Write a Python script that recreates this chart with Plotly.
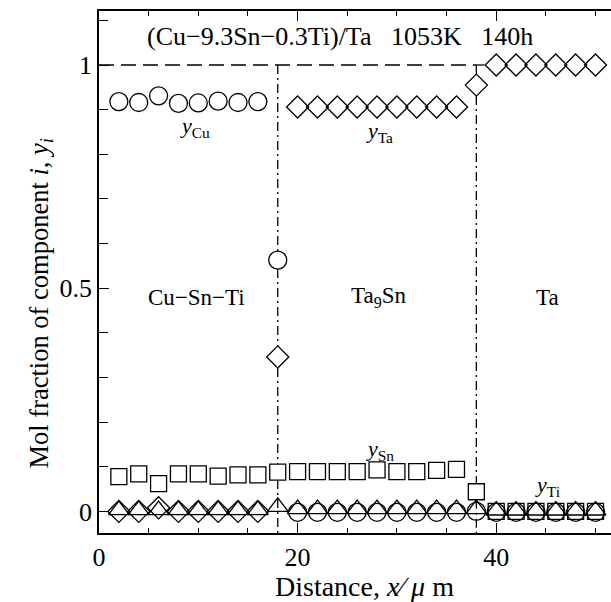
import plotly.graph_objects as go

# ---------------- data ----------------
distance = [2, 4, 6, 8, 10, 12, 14, 16, 18, 20, 22, 24, 26, 28, 30, 32, 34, 36, 38,
            40, 42, 44, 46, 48, 50]
y_cu = [0.918, 0.916, 0.931, 0.914, 0.915, 0.919, 0.916, 0.918, 0.563,
        -0.002, -0.002, -0.002, -0.002, -0.002, -0.002, -0.002, -0.002, -0.002, 0.0,
        -0.002, -0.002, -0.002, -0.002, -0.002, -0.002]
y_ta = [0.0, 0.0, 0.008, 0.0, 0.0, 0.0, 0.0, 0.0, 0.346,
        0.906, 0.906, 0.906, 0.906, 0.906, 0.906, 0.906, 0.906, 0.906, 0.955,
        1.0, 1.0, 1.0, 1.0, 1.0, 1.0]
y_sn = [0.078, 0.084, 0.062, 0.084, 0.084, 0.079, 0.082, 0.082, 0.088,
        0.089, 0.089, 0.089, 0.089, 0.093, 0.089, 0.089, 0.092, 0.094, 0.044,
        0.0, 0.0, 0.0, 0.0, 0.0, 0.0]
y_ti = [0.003, 0.003, 0.003, 0.003, 0.003, 0.003, 0.003, 0.003, 0.01,
        0.005, 0.005, 0.005, 0.005, 0.005, 0.005, 0.005, 0.005, 0.005, 0.005,
        0.002, 0.002, 0.002, 0.002, 0.002, 0.002]

phase_boundaries = [18, 38]
phase_names = ["Cu\u2212Sn\u2212Ti", "Ta<sub>9</sub>Sn", "Ta"]
phase_label_x = [9.8, 28.1, 45.2]
x_label_vals = [0, 20, 40]
x_long_tick_vals = [10, 30, 50]
y_tick_vals = [0, 0.5, 1]
y_tick_text = ["0", "0.5", "1"]

FONT = "Liberation Serif, Times New Roman, serif"
BLACK = "#000000"
SP = "\u00a0"

Y_RANGE = [-0.0484, 1.121]
PLOT_H_PX = 522  # plot-area height in pixels (602 - 11 - 69)
PX_PER_UNIT = PLOT_H_PX / (Y_RANGE[1] - Y_RANGE[0])

fig = go.Figure()

# (values, symbol, size, half-extent above centre px, half-extent below centre px)
series = [
    (y_cu, "circle-open", 18, 9, 9),
    (y_ta, "diamond-open", 17, 11, 11),
    (y_sn, "square-open", 16, 8, 8),
    (y_ti, "triangle-up-open", 18, 9, 4.5),
]
for ys, sym, sz, _, _ in series:
    fig.add_trace(go.Scatter(
        x=distance, y=ys, mode="markers", showlegend=False,
        marker=dict(symbol=sym, size=sz, color=BLACK, line=dict(width=1.3, color=BLACK)),
    ))

# dashed line at y = 1
fig.add_shape(type="line", xref="x", yref="y", x0=0, x1=phase_boundaries[1], y0=1, y1=1,
              line=dict(color=BLACK, width=1.3, dash="15px,7px"), layer="below")
fig.add_shape(type="line", xref="x", yref="y", x0=phase_boundaries[1], x1=phase_boundaries[1] + 0.8,
              y0=1, y1=1, line=dict(color=BLACK, width=1.3), layer="below")

# dash-dot phase boundaries, interrupted where markers sit on them
for b in phase_boundaries:
    idx = distance.index(b)
    gaps = []
    for ys, _, _, up, dn in series:
        v = ys[idx]
        if v > 0.02:
            gaps.append((v - dn / PX_PER_UNIT, v + up / PX_PER_UNIT))
    gaps.sort(key=lambda g: -g[1])
    top = 1.0
    for lo, hi in gaps:
        if hi < top:
            fig.add_shape(type="line", xref="x", yref="y", x0=b, x1=b, y0=top, y1=hi,
                          line=dict(color=BLACK, width=1.3, dash="9px,4px,2px,4px"), layer="below")
        top = min(top, lo)
    fig.add_shape(type="line", xref="x", yref="y", x0=b, x1=b, y0=top, y1=Y_RANGE[0],
                  line=dict(color=BLACK, width=1.3, dash="9px,4px,2px,4px"), layer="below")

annots = []
annots.append(dict(x=24.3, y=1.063,
                   text=f"(Cu\u22129.3Sn\u22120.3Ti)/Ta{SP*3}1053K{SP*3}140h",
                   font=dict(size=26)))
annots.append(dict(x=9.7, y=0.861, text="<i>y</i><sub>Cu</sub>", font=dict(size=22)))
annots.append(dict(x=28.2, y=0.85, text="<i>y</i><sub>Ta</sub>", font=dict(size=22)))
annots.append(dict(x=28.3, y=0.137, text="<i>y</i><sub>Sn</sub>", font=dict(size=22)))
annots.append(dict(x=45.2, y=0.058, text="<i>y</i><sub>Ti</sub>", font=dict(size=22)))
for name, px in zip(phase_names, phase_label_x):
    annots.append(dict(x=px, y=0.48, text=name, font=dict(size=23)))
for a in annots:
    a.update(xref="x", yref="y", showarrow=False)
    a["font"].update(family=FONT, color=BLACK)

# axis titles as paper-positioned annotations
annots.append(dict(xref="paper", yref="paper", x=0.518, y=-0.103, showarrow=False,
                   xanchor="center", yanchor="middle",
                   text="Distance, <i>x</i>\u2215 <i>\u03bc</i> m",
                   font=dict(family=FONT, size=28, color=BLACK)))
annots.append(dict(xref="paper", yref="paper", x=-0.113, y=0.44, showarrow=False,
                   xanchor="center", yanchor="middle", textangle=-90,
                   text="Mol fraction of component <i>i</i>, <i>y</i><sub><i>i</i></sub>",
                   font=dict(family=FONT, size=26.5, color=BLACK)))

tick_common = dict(ticks="inside", tickwidth=1.2, tickcolor=BLACK)

fig.update_layout(
    width=611, height=602,
    margin=dict(l=99, r=0, t=11, b=69),
    paper_bgcolor="white", plot_bgcolor="white",
    font=dict(family=FONT, size=26, color=BLACK),
    annotations=annots,
    showlegend=False,
    xaxis=dict(
        range=[0, 51.56], showgrid=False, zeroline=False,
        showline=True, linecolor=BLACK, linewidth=1.8, mirror="ticks",
        ticklen=10, tickvals=x_label_vals, **tick_common,
        tickfont=dict(family=FONT, size=26, color=BLACK),
        minor=dict(dtick=5, tick0=0, ticklen=5, **tick_common),
    ),
    xaxis2=dict(
        overlaying="x", anchor="y", side="bottom", matches="x",
        showgrid=False, zeroline=False, showline=False, showticklabels=False,
        mirror="ticks", ticklen=10, tickvals=x_long_tick_vals, **tick_common,
    ),
    yaxis=dict(
        range=Y_RANGE, showgrid=False, zeroline=False,
        showline=True, linecolor=BLACK, linewidth=1.6, mirror=False,
        ticklen=10, tickvals=y_tick_vals, ticktext=y_tick_text, **tick_common,
        tickfont=dict(family=FONT, size=26, color=BLACK),
        minor=dict(dtick=0.1, tick0=0, ticklen=9, **tick_common),
    ),
    yaxis2=dict(
        overlaying="y", anchor="x", side="right", matches="y",
        showgrid=False, zeroline=False, showline=False, showticklabels=False,
        ticklen=6, tickvals=y_tick_vals, **tick_common,
        minor=dict(dtick=0.1, tick0=0, ticklen=6, **tick_common),
    ),
)

fig.write_html("out.html", config={"displayModeBar": False},
               post_script="document.body.style.margin='0px';")
